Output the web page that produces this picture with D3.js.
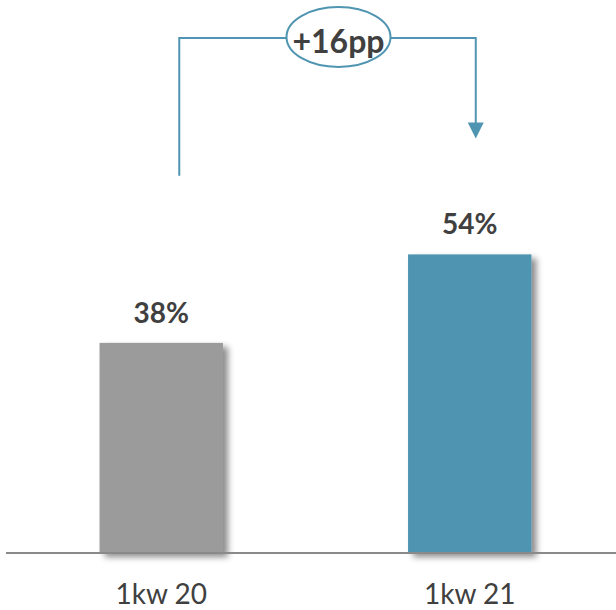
<!DOCTYPE html>
<html><head><meta charset="utf-8">
<script src="https://cdn.jsdelivr.net/npm/d3@7"></script>
<style>body{margin:0;background:#fff}svg{display:block}</style>
</head><body>
<script>
const categories = ["1kw 20", "1kw 21"];
const values = [38, 54];
const barColors = ["#9b9b9b", "#4f95b1"];
const deltaLabel = "+16pp";

const W = 616, H = 610;
const svg = d3.select("body").append("svg").attr("width", W).attr("height", H);

const defs = svg.append("defs");
const f = defs.append("filter").attr("id","sh").attr("x","-20%").attr("y","-20%").attr("width","150%").attr("height","150%");
f.append("feDropShadow").attr("dx",5).attr("dy",4).attr("stdDeviation",3).attr("flood-color","#000").attr("flood-opacity",0.45);

const baseY = 553;
const x = d3.scaleBand().domain(categories).range([7, 624]).paddingInner(0.6).paddingOuter(0.3);
const y = d3.scaleLinear().domain([0, 100]).range([baseY, baseY - 100 * 5.53]);

svg.selectAll("rect.bar").data(values).join("rect")
  .attr("class","bar")
  .attr("x",(d,i)=>x(categories[i]))
  .attr("y",d=>y(d))
  .attr("width",x.bandwidth())
  .attr("height",d=>y(0)-y(d))
  .attr("fill",(d,i)=>barColors[i])
  .attr("filter","url(#sh)");

svg.selectAll("text.val").data(values).join("text")
  .attr("class","val")
  .attr("x",(d,i)=>x(categories[i])+x.bandwidth()/2)
  .attr("y",d=>y(d)-20)
  .attr("text-anchor","middle")
  .attr("font-family","Lato, sans-serif").attr("font-weight","bold").attr("font-size",28)
  .attr("fill","#404040")
  .text(d=>d+"%");

// axis line
svg.append("line").attr("x1",6).attr("x2",W).attr("y1",baseY).attr("y2",baseY)
  .attr("stroke","#8a8a8a").attr("stroke-width",2);

svg.selectAll("text.cat").data(categories).join("text")
  .attr("class","cat")
  .attr("x",d=>x(d)+x.bandwidth()/2)
  .attr("y",604)
  .attr("text-anchor","middle")
  .attr("font-family","Lato, sans-serif").attr("font-size",28)
  .attr("fill","#404040")
  .text(d=>d);

// bracket annotation
const lc = "#4f95b1";
const xl = x(categories[0]) + x.bandwidth()/2 + 18;
const xr = x(categories[1]) + x.bandwidth()/2 + 6;
const topY = 38;
const leftBottom = y(values[0]) - 167;
const arrowTip = y(values[1]) - 116;
const g = svg.append("g");
g.append("path").attr("d",`M${xl},${leftBottom}V${topY}H${xr}V${arrowTip-14}`)
  .attr("fill","none").attr("stroke",lc).attr("stroke-width",2);
g.append("path").attr("d",`M${xr-8},${arrowTip-16}L${xr+8},${arrowTip-16}L${xr},${arrowTip}Z`).attr("fill",lc);
const cx = (xl+xr)/2 + 11;
g.append("ellipse").attr("cx",cx).attr("cy",37).attr("rx",52).attr("ry",30)
  .attr("fill","#fff").attr("stroke",lc).attr("stroke-width",2);
g.append("text").attr("x",cx).attr("y",53).attr("text-anchor","middle")
  .attr("font-family","Lato, sans-serif").attr("font-weight","bold").attr("font-size",32)
  .attr("fill","#404040").text(deltaLabel);
</script>
</body></html>
